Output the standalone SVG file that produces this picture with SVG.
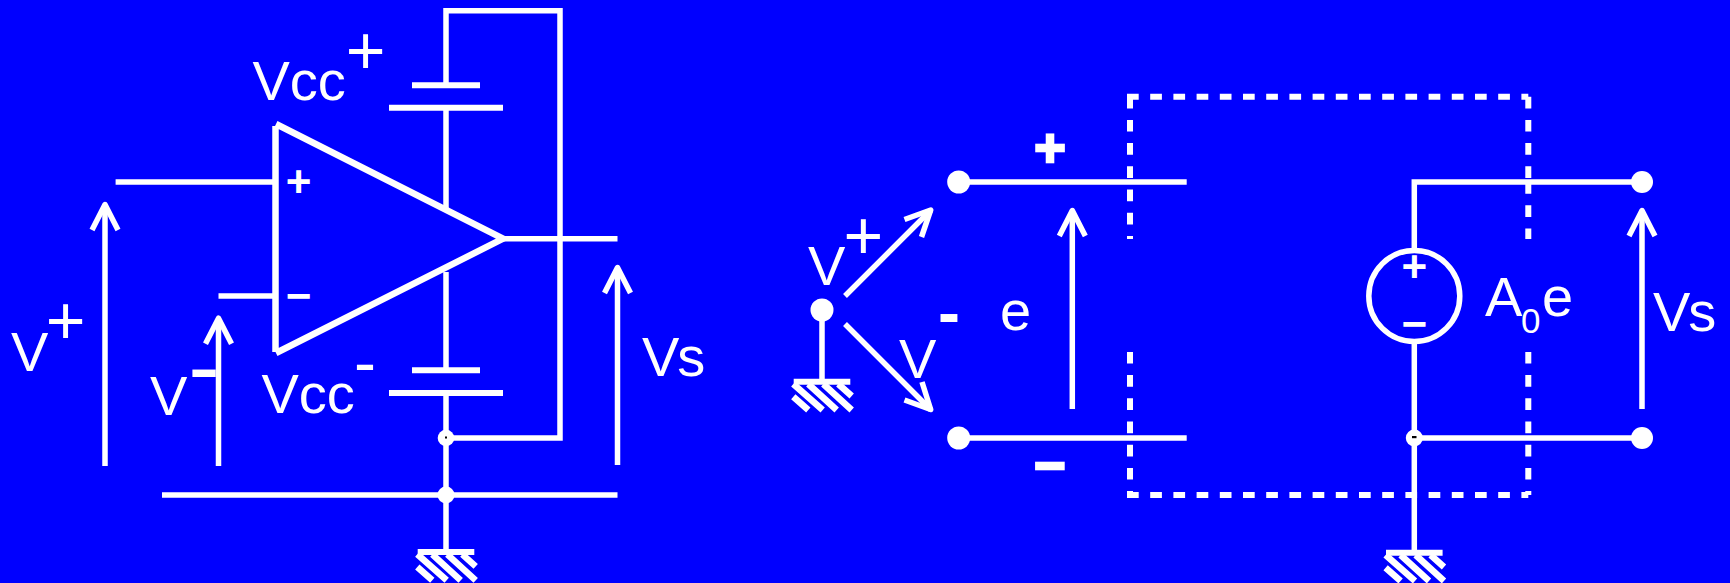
<svg xmlns="http://www.w3.org/2000/svg" xmlns:xlink="http://www.w3.org/1999/xlink" width="1730" height="583" viewBox="0 0 1730 583">
<style>
.w{stroke:#fff;stroke-width:5.5;fill:none;stroke-linecap:butt}
.j{stroke:#fff;stroke-width:5.5;fill:none;stroke-linejoin:round}
.p{stroke:#fff;stroke-width:6;fill:none}
.tri{stroke:#fff;stroke-width:6.5;fill:none}
.h{stroke:#fff;stroke-width:6.5;fill:none}
.d{stroke:#fff;stroke-width:6;fill:none;stroke-dasharray:11.7 11.5}
.f{fill:#fff;stroke:none}
text{fill:#fff;font-family:"Liberation Sans",Arial,sans-serif}
.t{font-size:56px}
.vs{font-size:56px;letter-spacing:-2px}
.s{font-size:35px}
.plus{font-size:68px;text-anchor:middle}
.hy{font-size:66px;font-weight:bold;text-anchor:middle}
.hl{font-size:95px;text-anchor:middle}
.hr{font-size:66px;text-anchor:middle}
.pb{font-size:44px;font-weight:bold;text-anchor:middle}
.bp{font-size:54px;font-weight:bold;text-anchor:middle;stroke:#fff;stroke-width:2.5}
</style>
<defs>
<g id="gnd">
<path class="p" d="M-28.3 0H28.3"/>
<path class="h" d="M-28.7 15L-13.7 28.300M-28.7 2.300L.7 28.300M-13.7 2.300L14.700 28.300M1.300 2.300L29.700 28.300M16.300 2.300L29.700 14.300"/>
</g>
<path id="ah" class="j" d="M-13 28L0 2.500L13 28"/>
</defs>
<rect width="1730" height="583" fill="#0000ff"/>
<g id="connectors">
<path class="w" d="M446 85V10.700H560V438H446"/>
<path class="w" d="M446 107V209M446 272V370M446 393V552"/>
<path class="w" d="M115.600 182H275M218.500 296H275"/>
<path class="w" d="M503 238.700H617.500M162 495H617.500"/>
<path class="w" d="M822 310V381M845 296L931 210M845 324L931 410"/>
<path class="w" d="M958.700 182H1186.700M958.700 438H1186.700"/>
<path class="w" d="M1414.300 250V182H1642M1414.300 342V552M1414.300 438H1642"/>
<path class="w" d="M105 466V206M218.500 466V320M617.500 465V269M1072.300 409V212M1642 409V212"/>
<path class="j" d="M904.500 219.500L930.700 210L921.500 237M904.500 400L930.700 409.500L922 382"/>
<use xlink:href="#ah" href="#ah" x="105" y="202"/>
<use xlink:href="#ah" href="#ah" x="218.500" y="315.700"/>
<use xlink:href="#ah" href="#ah" x="617.500" y="265"/>
<use xlink:href="#ah" href="#ah" x="1072.300" y="208"/>
<use xlink:href="#ah" href="#ah" x="1642" y="208"/>
</g>
<g id="opamp">
<path class="tri" d="M275.500 126V352M276 124L503 238.700L276 353"/>
<text class="pb" x="298.500" y="197">+</text>
<text class="pb" x="298.500" y="311">−</text>
</g>
<g id="battery-plus"><path class="p" d="M412 85.300H480M389 107.700H503"/></g>
<g id="battery-minus"><path class="p" d="M412 370.300H480M389 393H503"/></g>
<g id="junctions">
<circle class="f" cx="446" cy="438" r="8.300"/>
<circle class="f" cx="446" cy="495" r="8.500"/>
<rect x="445" y="436.500" width="2" height="2" fill="#000"/>
</g>
<g id="ground-1"><use xlink:href="#gnd" href="#gnd" x="446" y="552"/></g>
<g id="ground-2"><use xlink:href="#gnd" href="#gnd" x="822" y="381.700"/></g>
<g id="ground-3"><use xlink:href="#gnd" href="#gnd" x="1414.300" y="552.700"/></g>
<g id="labels-left">
<text class="t" x="252.500" y="100">Vcc</text>
<text class="plus" x="365.500" y="74">+</text>
<text class="t" x="261.500" y="413">Vcc</text>
<text class="hr" x="365" y="385">-</text>
<text class="t" x="11" y="371">V</text>
<text class="plus" x="65.500" y="344">+</text>
<text class="t" x="150" y="415">V</text>
<text class="hl" x="204" y="398">-</text>
<text class="vs" x="642" y="376">Vs</text>
</g>
<g id="terminals">
<circle class="f" cx="958.700" cy="182" r="11.500"/>
<circle class="f" cx="958.700" cy="438" r="11.500"/>
<circle class="f" cx="822" cy="310" r="11.500"/>
<circle class="f" cx="1642" cy="182" r="11"/>
<circle class="f" cx="1642" cy="438" r="11"/>
<circle class="f" cx="1414.300" cy="438" r="8.500"/>
<rect x="1412" y="436" width="4.500" height="2.200" fill="#000"/>
</g>
<g id="labels-right">
<text class="t" x="808" y="285">V</text>
<text class="plus" x="863.300" y="259">+</text>
<text class="t" x="899" y="378">V</text>
<text class="hy" x="949" y="334.500">-</text>
<text class="bp" x="1050" y="166">+</text>
<text class="bp" x="1050" y="484">−</text>
<text class="t" x="1000" y="330">e</text>
<text class="vs" x="1653" y="331">Vs</text>
</g>
<g id="dashed-box">
<path class="d" d="M1127 96.700H1528.300"/>
<path class="d" d="M1127 495H1528.300"/>
<path class="d" d="M1130 96.700V239M1130 351.900V495M1528.300 96.700V182M1528.300 182V239M1528.300 351.900V495"/>
</g>
<g id="source">
<circle class="w" cx="1414.300" cy="296" r="45.500"/>
<text class="pb" x="1414.300" y="282">+</text>
<text class="pb" x="1414.300" y="339">−</text>
<text class="t" x="1485" y="316">A</text>
<text class="s" x="1521" y="333">0</text>
<text class="t" x="1542" y="316">e</text>
</g>
</svg>
